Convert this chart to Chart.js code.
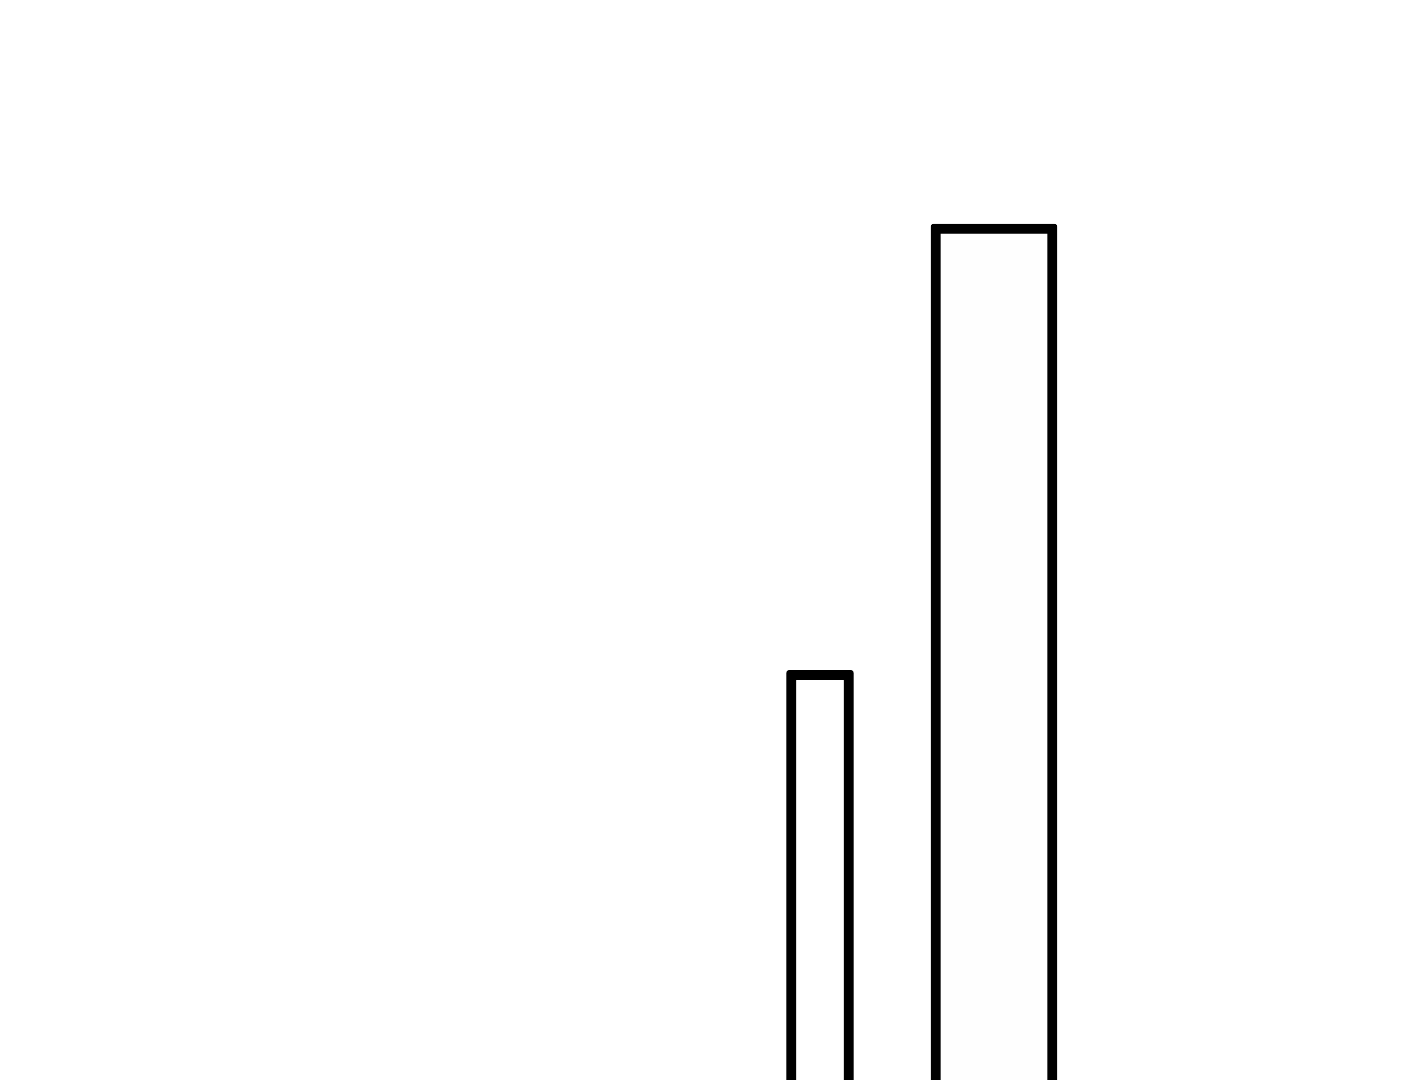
<!DOCTYPE html>
<html>
<head>
<meta charset="utf-8">
<script src="https://cdn.jsdelivr.net/npm/chart.js@4"></script>
<style>
  html, body { margin: 0; padding: 0; background: #ffffff; overflow: hidden; }
  #wrap { position: relative; width: 1417px; height: 1180px; }
</style>
</head>
<body>
<div id="wrap"><canvas id="chart1"></canvas></div>
<script>
// categories and values (bars run past the bottom edge)
const categories = ["A", "B"];
const narrowValues = [43.2, null];
const wideValues = [null, 81];

const ctx = document.getElementById("chart1").getContext("2d");

var datasets = [
  {
    label: "narrow",
    data: narrowValues,
    backgroundColor: "#ffffff",
    borderColor: "#000000",
    borderWidth: 10,
    borderRadius: 3,
    borderSkipped: false,
    barThickness: 67,
    skipNull: true
  },
  {
    label: "wide",
    data: wideValues,
    backgroundColor: "#fefefe",
    borderColor: "#000000",
    borderWidth: 10,
    borderRadius: 3,
    borderSkipped: false,
    barThickness: 126,
    skipNull: true
  }
];

new Chart(ctx, {
  type: "bar",
  data: { labels: categories, datasets: datasets },
  options: {
    responsive: true,
    maintainAspectRatio: false,
    animation: false,
    layout: { padding: { left: 733, right: 336, top: 0, bottom: 0 } },
    plugins: { legend: { display: false }, tooltip: { enabled: false } },
    scales: {
      x: { display: false, offset: true },
      y: { display: false, min: 0, max: 100 }
    }
  }
});
</script>
</body>
</html>
